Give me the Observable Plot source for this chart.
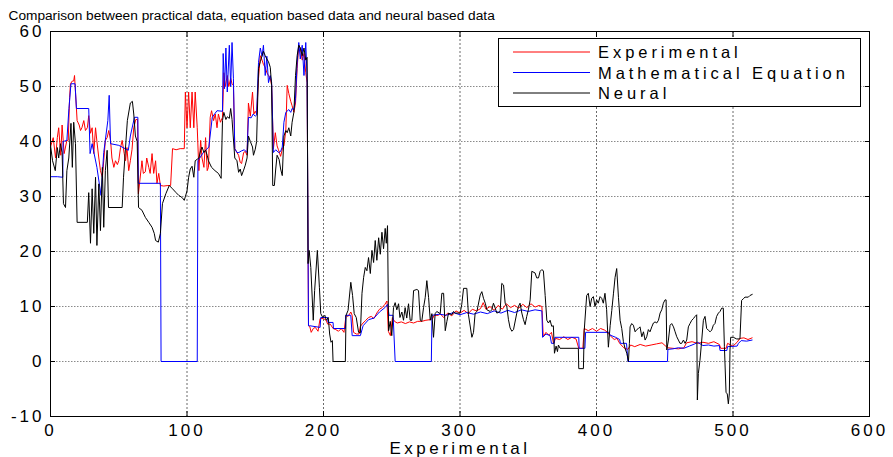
<!DOCTYPE html>
<html><head><meta charset="utf-8">
<script src="https://cdn.jsdelivr.net/npm/d3@7"></script>
<script src="https://cdn.jsdelivr.net/npm/@observablehq/plot@0.6"></script>
<style>
body{margin:0;background:#fff}
#chart svg{font-family:"Liberation Sans",Arial,sans-serif;background:#fff}
</style>
</head><body><div id="chart"></div>
<script>
const titleText = "Comparison between practical data, equation based data and neural based data";
const xLabel = "Experimental";
const seriesNames = ["Experimental", "Mathematical Equation", "Neural"];
const seriesColors = ["#ff0000", "#0000ff", "#000000"];
const xTicks = [0, 100, 200, 300, 400, 500, 600];
const yTicks = [-10, 0, 10, 20, 30, 40, 50, 60];

const experimental = [
[0,39],[2,40.7],[3.7,37],[5,40.7],[6,42.5],[7.5,37.5],[8.5,43],[10,37.8],[11,39],[12,40.2],[13,40.2],[14,48],[14.6,50.5],[16,51],[17,51],[17.6,52],[18.3,49],[19.5,43.8],[21,43],[22,42],[23,42.5],[24.4,43.8],[25.6,42],[27,42.5],[28,44.7],[29.3,41.5],[30.5,42.5],[31.7,37.8],[33,42.5],[34,40],[35.4,37],[36.6,34.7],[38,33.5],[39,36.5],[40.2,40.2],[41.5,40.7],[42.7,42],[44,40.2],[45,37],[46.4,35.3],[47.6,36.5],[49,35.8],[50,36.5],[51.3,38.9],[52.5,40.2],[54,37.8],[55,36.5],[56,38.9],[57.3,34.7],[58.5,36.5],[59.7,38.5],[61,42.5],[62.5,44],[63.8,44],[64.4,30.5],[65.5,33],[67,36.5],[68,34.2],[69.5,34.5],[70.5,37],[72,35.3],[73,34.2],[74.4,37.8],[75.6,34.2],[77,36.5],[78,32.4],[79.3,34.2],[80.5,32],[83,31.9],[86,32],[88,32],[89.4,38.7],[92,38.5],[95,38.7],[98,38.7],[98.8,49],[100,42.5],[101.2,49],[102.4,42.5],[103.7,49],[105,42.5],[106,49],[107.5,42.5],[108.7,34.7],[110,40.2],[111,37],[112.4,35.3],[113.6,40.7],[114.8,34.7],[115.7,35.3],[117,44.4],[118,45.6],[119.5,43.8],[120.7,45],[122,42.5],[123,45],[124.5,43.5],[126,44.4],[127,52.5],[128,50],[129.5,52],[130.6,50],[132,51.5],[133,50.5],[134,50.2],[135,38.7],[136.6,38],[137.8,37.5],[139,36.2],[140,36],[141.5,38],[142.7,38.2],[144,37.5],[145,47],[146.4,44.6],[148,49],[149,45],[150,45.5],[151,45],[152.4,51.5],[153.7,55.6],[155,54.8],[156,54],[157.3,53.5],[158.5,52.5],[159.7,52],[161,51.5],[162,50.2],[163.3,38.7],[164.7,41.6],[166,39.2],[167,38.5],[168.6,37.3],[170,38.8],[171,39.2],[172.4,42],[173.4,50.2],[174.6,48.7],[176,47.3],[177,46.5],[178.3,45.3],[179.5,47],[180.7,53.3],[181.9,57.5],[183,57],[184.4,54.8],[185.7,56],[187,52.5],[188,50.7],
[189,6.5],[190,6.3],[191,5.3],[192.5,6],[194,6.2],[196,5.5],[197.5,7.8],[200,7.8],[202,7.5],[203,6.8],[205,6.8],[207,6],[209,5.8],[211,5.5],[213,6],[215,5.3],[216.5,8.4],[218,8.2],[220,9],[221,8.4],[222,5.3],[224,5],[226,5],[227,6.4],[229,7],[231,7.5],[233,8],[235,8.2],[237,7.8],[239,8.8],[241,9.5],[243,9.8],[245,10.4],[246.5,11],[247.5,5.5],[249,4.7],[250.5,8],[252,7.3],[254,7],[257,7.2],[260,6.9],[263,7.2],[266,7],[269,7.3],[272,7.3],[275,7.5],[278,7.6],[280,7.8],[281,8.4],[284,8.4],[285.5,8.7],[288,8],[291,8.8],[294,8.3],[297,9.2],[300,8.8],[303,9.3],[306,8.7],[309,9.5],[312,9.2],[315,9.6],[317,10.7],[319,9.5],[322,10],[325,9.3],[328,10.2],[331,9.5],[334,10.5],[337,9.8],[340,10.2],[343,9.7],[346,10.4],[349,9.8],[352,10.5],[355,9.9],[358,10.2],[360,10],[361,4.5],[363,5.3],[365,4.8],[367,5.3],[368.5,3.3],[370,4.2],[373,4],[376,4.5],[379,4],[382,4.4],[385,4.1],[387,2.4],[390,2.4],[391,6],[394,5.6],[397,6],[400,5.5],[403,6],[406,5.7],[408,5.3],[410,4.7],[413,4],[415,4.2],[417,3.3],[420,2.5],[423,2.2],[425,3],[428,2.7],[432,3.1],[436,2.8],[440,3],[444,3.2],[448,3.4],[452,2.5],[456,2.4],[460,2.3],[464,2.5],[466,3.4],[470,3.6],[474,3.3],[478,3.5],[482,3.3],[486,3.6],[490,3.1],[491,2.4],[495,2.4],[496,3.3],[500,2.8],[503,3.5],[505,4.2],[508,4.3],[511,4],[514,4.3]
];

const mathematical = [
[0,33.6],[5,33.6],[9,33.5],[9.2,40],[12,40.2],[13.5,46],[15,50.5],[18,50.5],[19,46],[28,46],[29,37.8],[30.5,39.6],[34,35.3],[37,30.2],[39,38],[42,43.8],[43,48.4],[44,39.6],[50,39.3],[57,38.4],[58.5,41],[61.5,44.4],[64,44.4],[64.3,32.4],[80.5,32.4],[81,0],[107.5,0],[108,36.5],[112,38],[116,39],[118.5,44.4],[122,45.6],[126,45.5],[126.5,56],[127.5,49.6],[128.5,57],[129.5,49],[131,57.5],[132,50],[133,58],[134,51.5],[135,38.7],[136.6,38],[138,38],[140,38.3],[142,38.5],[144,38],[145,44.4],[147,44.3],[148.5,45],[150,44.6],[151,44.8],[152.4,54.4],[153.7,57],[155,55.5],[156,57.5],[157.3,52],[158.5,55.5],[159.7,50.7],[161,52],[162,50.7],[163.3,38],[165,38.5],[167,38],[168.6,38.2],[169.8,39],[171,43.5],[172.4,45.3],[174.6,45.8],[176,45.3],[177,46],[178.3,45.8],[179.5,47.8],[180.7,54.4],[181.9,58],[183,55],[184.4,57.5],[185.7,52],[187,58],[188,51.5],
[189,6.5],[190,6.5],[197.5,6.2],[198,8],[203,8],[203.3,7.1],[207,7.1],[207.3,6],[216,6],[216.3,8.4],[220,8.4],[221,4.7],[227,4.7],[229,6.5],[233,7.6],[237,7.9],[241,9],[245,9.8],[247,10.4],[248,8.4],[251,8.4],[252.5,0],[279,0],[279.5,8.4],[285,8.6],[290,8.4],[295,8.9],[300,8.5],[305,8.9],[310,8.6],[315,9],[320,8.7],[325,9.2],[330,8.8],[335,9.3],[340,8.9],[345,9.4],[350,9.1],[355,9.4],[360,9.2],[360.5,4.4],[363,5],[366,4.7],[367,3.3],[369,3.3],[369.5,4.4],[387,4.4],[387.3,2.4],[391.5,2.4],[392,5.3],[409,5.3],[410,4.8],[414,4.4],[417,4],[417.5,3.3],[422,3.3],[423,0],[452,0],[452.3,2.2],[456,2.3],[460,2.5],[464,2.4],[468,2.8],[472,3.2],[474,3.5],[478,2.9],[482,3],[486,2.8],[490,2.9],[490.5,2],[495.5,2],[496,2.7],[503,2.8],[504,3.3],[506,3.8],[510,3.7],[514,3.9]
];

const neural = [
[0,39.3],[1.5,36.5],[3.5,34.7],[5,38.9],[6,37],[7.3,39.6],[8.5,38],[9.5,28.7],[11,28],[12,34.7],[13.4,37],[15,43.3],[16,35.3],[17,43.5],[18.3,39.6],[19.5,25.3],[27,25.3],[28,30.7],[29.3,21.5],[30.5,31.4],[31.7,23.3],[33,33.5],[34,21.1],[35.4,32.3],[36.6,23.8],[38,35.3],[39,24.4],[40.2,34.7],[41.5,38.4],[42.5,28],[52.5,28],[53.5,33.5],[56.3,43.8],[58.5,47],[60,47.3],[61,45],[62.2,41],[63.5,40],[64.5,28],[67,27.5],[69.5,26.2],[72,25.3],[74.4,24.4],[76,23.3],[77,22],[79,21.7],[80.5,23.3],[82,28.7],[84.5,30.5],[87,32],[89.4,31.4],[92,30.7],[94,30.2],[96.5,29.8],[98,29.3],[98.8,30],[100,31],[101.2,33.5],[102.4,35],[103.7,35.5],[105,33.5],[106,36.5],[108.7,37],[110,38.4],[111,39],[112.4,38],[113.6,38.4],[114.8,37.5],[115.7,36.5],[118,35.3],[120.5,34.7],[123,34.2],[125,33.3],[126,43.8],[127,45.3],[128.5,44],[129.5,44.5],[131,44.2],[132,46],[133,44],[135,37],[136.6,36.5],[137.8,34.4],[139,35],[140,33.8],[141.5,34.8],[142.7,35.7],[144,37],[145,41],[146.4,40],[148,39],[148.7,37.5],[150,38.6],[151,40],[152.4,53.3],[153.7,54.5],[155,55.6],[156,56.4],[157.3,55.6],[158.5,55],[159.7,54.5],[161,53.5],[162,50.2],[162.8,32],[164,32],[165,35],[166,37.5],[167.5,36.7],[168.6,35],[169.8,33.8],[171,41],[172.4,42],[173.4,41.6],[174.6,42.5],[176,41],[177,43.5],[178.3,45.3],[179.5,52],[180.7,55.6],[181.9,57.5],[183,57],[184.4,55.6],[185.7,57],[187,54.8],[188,55.3],
[188.7,17.8],[189.5,20.2],[190.7,17.1],[192.5,7.5],[193.5,12.9],[195.5,20.2],[197,13.5],[198,8.7],[199.5,8],[201,8.4],[202,7.5],[203.5,8],[204.5,5],[205.5,3.5],[206.5,3.8],[207,0],[216,0],[216.5,8.4],[218,9.3],[220,14.4],[221.3,12],[222.5,8.7],[224,8],[225.7,5.3],[227,5.2],[228.2,12.4],[229.4,15.3],[230.6,17.1],[231.8,16.5],[233,18.9],[234.3,16],[235.5,20.2],[236.7,18],[237.9,22],[239.1,18.4],[240.4,22.5],[241.6,19.5],[242.8,23.5],[244,20.5],[245.2,24.2],[246,21.5],[246.9,24.7],[247.7,5.6],[248.9,7.3],[250,4.7],[251.3,9.8],[252.5,10.7],[253.7,9.4],[255,10.5],[256,8],[257.4,9],[258.6,7.5],[259.8,9.8],[261,7.9],[262.3,10.5],[263.5,7.5],[264.7,7.5],[266,12.9],[268.4,13.1],[269.6,12.9],[270.9,7.5],[272,7.3],[273.3,9.8],[274.5,11.6],[275.7,14.7],[277,11.6],[278.2,7.5],[279.4,8.7],[280.6,4.4],[281.8,8.7],[283,9.1],[285.5,8.7],[286.7,12.4],[288,12.4],[289.2,5.6],[290.4,7.3],[291.6,8.8],[294,8.5],[295.3,9.1],[296.5,8.8],[300.1,8.8],[301.3,10.4],[302.6,13.3],[305,13.3],[306.2,8.5],[308.7,4.4],[309.9,5.3],[311.1,8.8],[312.4,9.1],[314.8,12.1],[316,12.7],[317.2,11.5],[318.5,10.6],[319.7,9.4],[322.1,9.1],[323.3,9.4],[324.5,10.6],[325.8,9.7],[327,8.8],[329.4,9.1],[330.6,14.2],[331.9,13.9],[333.1,10.6],[334.3,10],[335.5,7.6],[336.7,6.1],[338,5.5],[339.2,5.8],[341.6,8.8],[342.8,10],[344,10.6],[345.3,8.8],[346.5,7.6],[347.7,6.7],[348.9,8.2],[350.1,9.4],[351.4,11.2],[352.6,16.4],[355,16.1],[356.2,15.2],[357.5,15.2],[358.7,16.4],[359.9,16.7],[361.1,16.5],[362.4,12],[363.6,7.5],[364.8,7],[366,7.5],[367.2,6.4],[368.4,6.5],[369.2,1.5],[370.4,2.8],[371.4,1.8],[372.1,3],[373.3,2.4],[386.7,2.4],[387,-1.3],[390.4,-1.3],[391,5.6],[392.8,12],[394,12.4],[395.3,10],[396.5,11.5],[397.7,11.8],[398.9,10],[400.1,11.2],[401.3,10.6],[402.6,11.8],[403.8,11.5],[405,10.6],[406.2,12.4],[407.4,9.5],[408.7,2.6],[410,6.5],[411.2,9.3],[412.4,12.3],[413.6,15.3],[414.8,16.9],[416.1,11.6],[417.3,7.5],[418.5,6],[419.7,3.6],[420.9,2.4],[422.2,1.5],[423.4,0],[424.1,3.3],[424.6,6.3],[425.8,6.9],[427,6.6],[428.3,5.4],[429.5,5.8],[430.7,6],[431.9,6.3],[433.2,4.5],[434.4,5.4],[435.6,3.9],[436.8,4.5],[438,5.8],[439.2,5.4],[440.5,6.3],[441.7,7],[442.9,7.2],[444.1,7],[445.4,7.5],[446.6,8.8],[447.8,9.4],[449,10.6],[450.2,11.2],[451,11.2],[451.5,2.1],[452.7,3.9],[453.9,6.6],[455.1,6.9],[456.4,6.3],[457.6,5.4],[458.8,4.5],[460,3.9],[461.2,3.3],[462.4,3.3],[463.7,3.9],[464.9,3.3],[466.1,3.9],[467.3,6.3],[468.5,6.9],[469.8,7.5],[471,7.8],[472.2,8.2],[473.4,8.5],[473.9,-7],[474.6,-2.2],[475.8,0.2],[477.1,3.9],[478.3,7.5],[479.5,8.2],[480.7,6],[481.9,5.7],[483.2,5.4],[484.4,5.7],[485.6,6.6],[486.8,6.9],[488,8.2],[489.3,8.8],[490.5,9.1],[491.7,9.7],[492.9,9.7],[493.7,2.7],[494.9,-5.6],[495.8,-5.9],[496.6,-7.7],[497.3,-5.9],[497.8,2.1],[498.3,4.4],[500.2,4.4],[502.7,4.1],[505.1,4.1],[506.3,11.1],[507.5,11.4],[508.8,11.7],[511.2,11.7],[512.4,12],[514.1,12.2]
];

const seriesData = [experimental, mathematical, neural];
const fmt = d => String(d);

const plot = Plot.plot({
  width: 893,
  height: 457,
  marginTop: 31,
  marginBottom: 41,
  marginLeft: 50,
  marginRight: 24,
  style: {fontFamily: "'Liberation Sans', Arial, sans-serif", fontSize: "17px", color: "#000", background: "#fff", overflow: "visible"},
  x: {domain: [0, 600]},
  y: {domain: [-10, 60]},
  marks: [
    Plot.gridX(xTicks, {stroke: "#6a6a6a", strokeOpacity: 1, strokeDasharray: "2,2"}),
    Plot.gridY(yTicks, {stroke: "#8a8a8a", strokeOpacity: 1, strokeDasharray: "1.5,1.5"}),
    ...seriesData.map((s, i) => Plot.line(s, {x: d => d[0], y: d => d[1], stroke: seriesColors[i], strokeWidth: 1})),
    Plot.frame({stroke: "#000", strokeWidth: 1}),
    Plot.axisX(xTicks, {anchor: "bottom", tickSize: -5, tickPadding: 12, tickFormat: fmt, label: null, fontSize: 17}),
    Plot.axisX(xTicks, {anchor: "top", tickSize: -5, tickFormat: () => "", label: null}),
    Plot.axisY(yTicks, {anchor: "left", tickSize: -5, tickPadding: 11, tickFormat: fmt, label: null, fontSize: 17}),
    Plot.axisY(yTicks, {anchor: "right", tickSize: -5, tickFormat: () => "", label: null}),
    Plot.text([titleText], {text: d => d, frameAnchor: "top-left", dx: -42, dy: -16, textAnchor: "start", lineAnchor: "middle", fontSize: 13.7, fill: "#000"}),
    Plot.text([xLabel], {text: d => d, frameAnchor: "bottom", dy: 32, lineAnchor: "middle", fontSize: 17, fill: "#000"})
  ]
});

document.getElementById("chart").appendChild(plot);

const svg = d3.select(plot);
svg.selectAll('g[aria-label="x-axis tick label"] text, g[aria-label="y-axis tick label"] text').style("letter-spacing", "3px");
svg.selectAll('g[aria-label="text"]').filter((d, i, n) => d3.select(n[i]).text() === xLabel).selectAll("text").style("letter-spacing", "3.5px");

const lg = svg.append("g").attr("class", "legend").attr("text-anchor", "start");
lg.append("rect").attr("x", 498.5).attr("y", 38.5).attr("width", 362).attr("height", 68)
  .attr("fill", "#fff").attr("stroke", "#000");
seriesNames.forEach((name, i) => {
  const yy = 52 + i * 20.5;
  lg.append("line").attr("x1", 513).attr("x2", 590).attr("y1", yy).attr("y2", yy)
    .attr("stroke", seriesColors[i]).attr("stroke-width", 1);
  lg.append("text").attr("x", 598).attr("y", yy + 6).attr("font-size", 16.5)
    .attr("text-anchor", "start")
    .style("letter-spacing", "3.95px").attr("fill", "#000").text(name);
});
</script>
</body></html>
